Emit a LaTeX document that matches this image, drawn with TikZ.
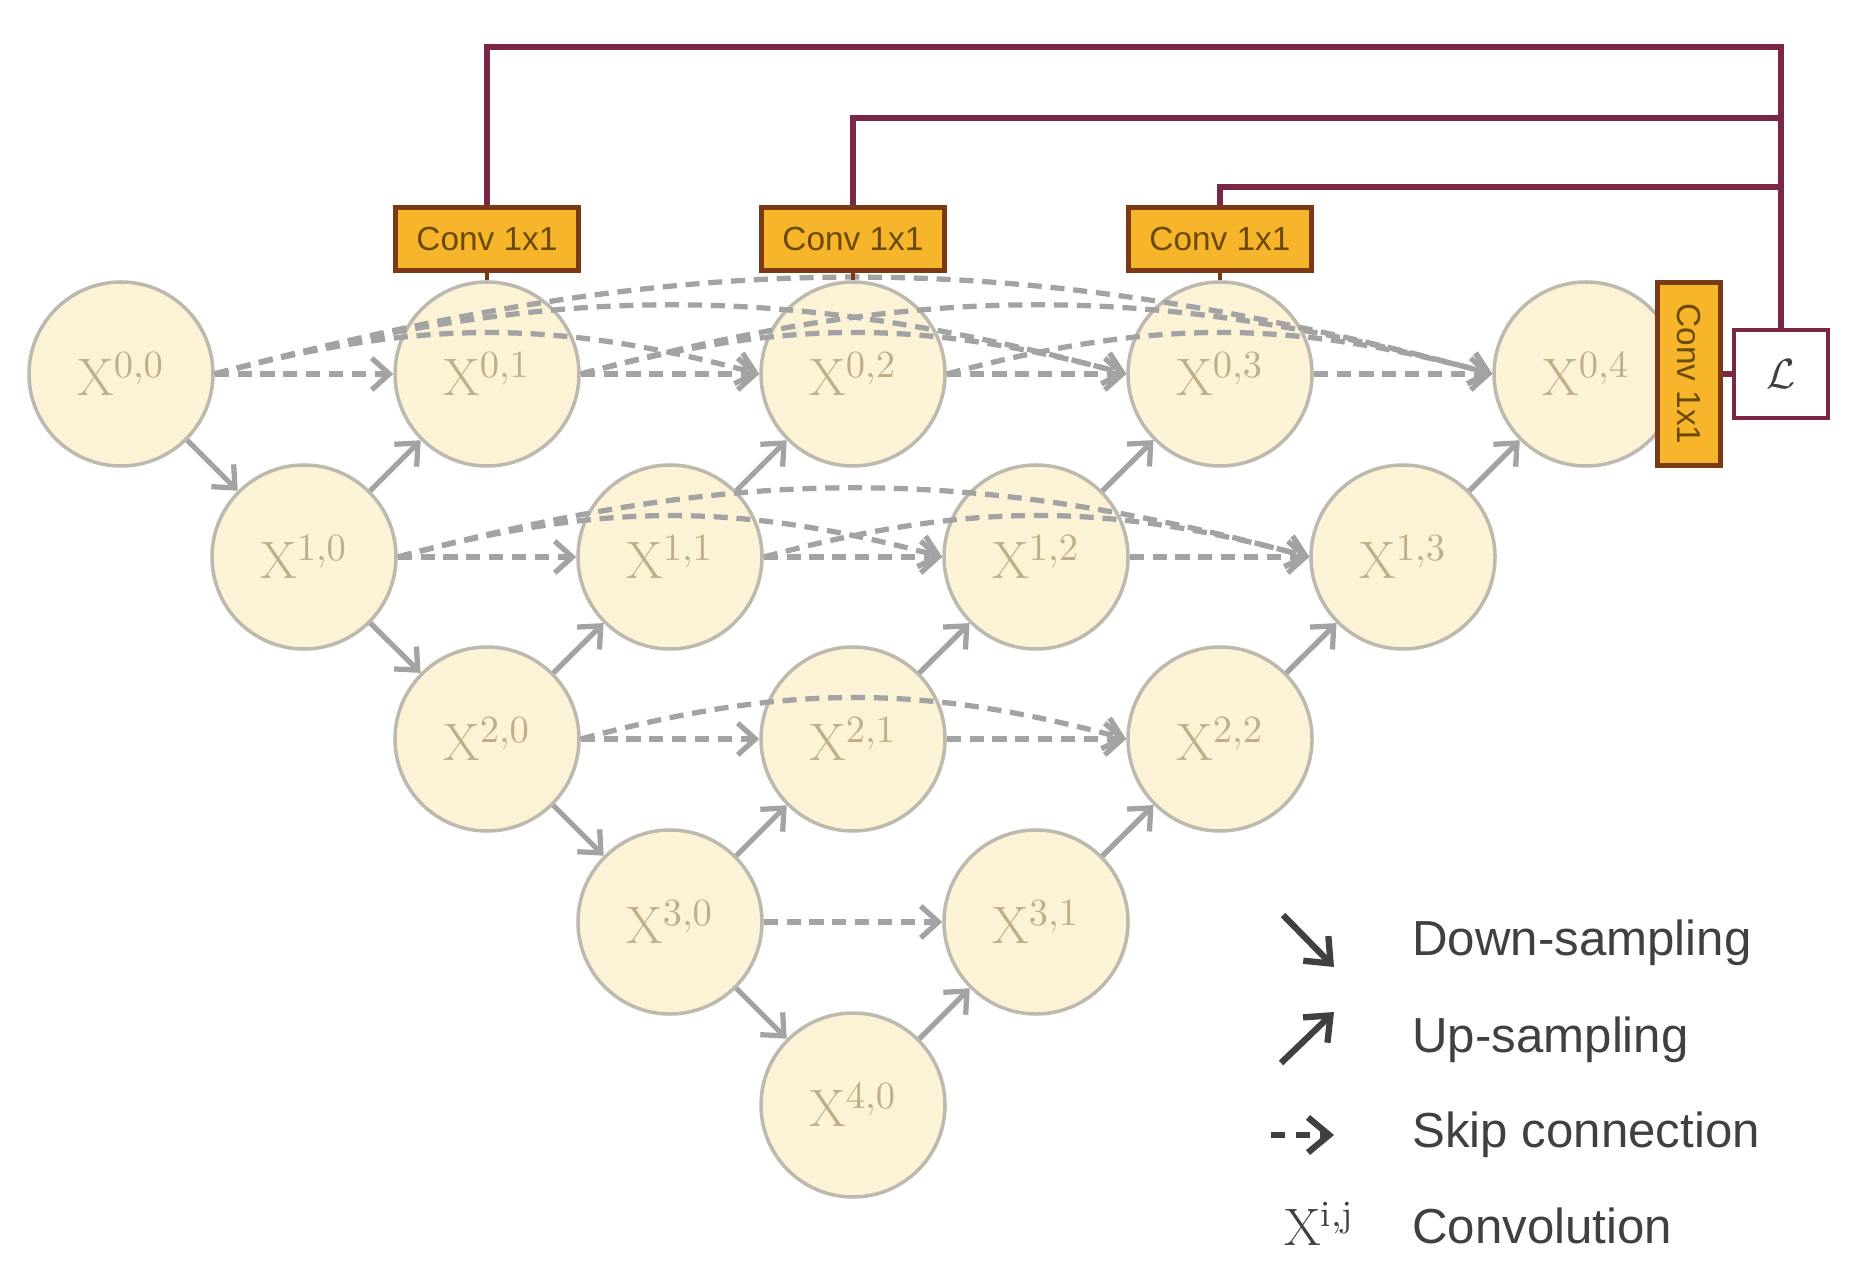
\documentclass[tikz,border=0pt]{standalone}
\usepackage{fontspec}
\setsansfont{Liberation Sans}
\usetikzlibrary{arrows.meta}
\definecolor{cream}{HTML}{FCF3D6}
\definecolor{ringgray}{HTML}{BDB9AE}
\definecolor{labeltan}{HTML}{BFAE88}
\definecolor{linkgray}{HTML}{A3A3A3}
\definecolor{convgold}{HTML}{F6B52A}
\definecolor{convbrown}{HTML}{7A3A14}
\definecolor{convtext}{HTML}{6A4A00}
\definecolor{lossred}{HTML}{7A2646}
\definecolor{legdark}{HTML}{404040}
\begin{document}
\begin{tikzpicture}[
    blob/.style={circle,draw=ringgray,line width=1pt,fill=cream,minimum size=1.84cm,inner sep=0pt,text=labeltan,font=\fontsize{15}{17}\selectfont},
    convbox/.style={draw=convbrown,line width=1.4pt,fill=convgold,minimum width=1.83cm,minimum height=0.63cm,inner sep=0pt,text=convtext,font=\sffamily\fontsize{9.5}{11}\selectfont},
    lossbox/.style={draw=lossred,line width=1.4pt,fill=white,minimum width=0.94cm,minimum height=0.88cm,text=legdark,font=\fontsize{13}{15}\selectfont},
    wire/.style={lossred,line width=1.5pt},
    stub/.style={convbrown,line width=1.4pt},
    samp/.style={linkgray,line width=1.5pt,-{Straight Barb[length=5pt,width=9pt]}},
    skip/.style={samp,dash pattern=on 4pt off 2.5pt},
    arc/.style={skip,bend left=15},
    legarr/.style={legdark,line width=1.8pt,-{Straight Barb[length=6pt,width=10pt]}},
    legtext/.style={anchor=base west,text=legdark,font=\sffamily\fontsize{14}{16}\selectfont}
]
\useasboundingbox (0,0) rectangle (18.63,-12.80);
\node[blob] (x00) at (1.21,-3.74) {$\mathrm{X}^{0,0}$};
\node[blob] (x01) at (4.87,-3.74) {$\mathrm{X}^{0,1}$};
\node[blob] (x02) at (8.53,-3.74) {$\mathrm{X}^{0,2}$};
\node[blob] (x03) at (12.20,-3.74) {$\mathrm{X}^{0,3}$};
\node[blob] (x04) at (15.86,-3.74) {$\mathrm{X}^{0,4}$};
\node[blob] (x10) at (3.04,-5.57) {$\mathrm{X}^{1,0}$};
\node[blob] (x11) at (6.70,-5.57) {$\mathrm{X}^{1,1}$};
\node[blob] (x12) at (10.36,-5.57) {$\mathrm{X}^{1,2}$};
\node[blob] (x13) at (14.03,-5.57) {$\mathrm{X}^{1,3}$};
\node[blob] (x20) at (4.87,-7.39) {$\mathrm{X}^{2,0}$};
\node[blob] (x21) at (8.53,-7.39) {$\mathrm{X}^{2,1}$};
\node[blob] (x22) at (12.20,-7.39) {$\mathrm{X}^{2,2}$};
\node[blob] (x30) at (6.70,-9.22) {$\mathrm{X}^{3,0}$};
\node[blob] (x31) at (10.36,-9.22) {$\mathrm{X}^{3,1}$};
\node[blob] (x40) at (8.53,-11.05) {$\mathrm{X}^{4,0}$};
\draw[skip] (x00) -- (x01);
\draw[arc] (x00.east) to (x02.west);
\draw[arc] (x00.east) to (x03.west);
\draw[arc] (x00.east) to (x04.west);
\draw[skip] (x01) -- (x02);
\draw[arc] (x01.east) to (x03.west);
\draw[arc] (x01.east) to (x04.west);
\draw[skip] (x02) -- (x03);
\draw[arc] (x02.east) to (x04.west);
\draw[skip] (x03) -- (x04);
\draw[skip] (x10) -- (x11);
\draw[arc] (x10.east) to (x12.west);
\draw[arc] (x10.east) to (x13.west);
\draw[skip] (x11) -- (x12);
\draw[arc] (x11.east) to (x13.west);
\draw[skip] (x12) -- (x13);
\draw[skip] (x20) -- (x21);
\draw[arc] (x20.east) to (x22.west);
\draw[skip] (x21) -- (x22);
\draw[skip] (x30) -- (x31);
\draw[samp] (x00) -- (x10);
\draw[samp] (x10) -- (x20);
\draw[samp] (x20) -- (x30);
\draw[samp] (x30) -- (x40);
\draw[samp] (x10) -- (x01);
\draw[samp] (x20) -- (x11);
\draw[samp] (x30) -- (x21);
\draw[samp] (x40) -- (x31);
\draw[samp] (x11) -- (x02);
\draw[samp] (x21) -- (x12);
\draw[samp] (x31) -- (x22);
\draw[samp] (x12) -- (x03);
\draw[samp] (x22) -- (x13);
\draw[samp] (x13) -- (x04);
\node[convbox] (c1) at (4.87,-2.39) {Conv 1x1};
\node[convbox] (c2) at (8.53,-2.39) {Conv 1x1};
\node[convbox] (c3) at (12.20,-2.39) {Conv 1x1};
\node[convbox,rotate=-90] (c4) at (16.89,-3.74) {Conv 1x1};
\node[lossbox] (loss) at (17.81,-3.74) {$\mathcal{L}$};
\coordinate (t1) at (17.81,-0.47);
\coordinate (t2) at (17.81,-1.18);
\coordinate (t3) at (17.81,-1.87);
\draw[wire] (c1.north) |- (t1) -- (loss.north);
\draw[wire] (c2.north) |- (t2);
\draw[wire] (c3.north) |- (t3);
\draw[wire] (c4.north) -- (loss.west);
\draw[stub] (c1.south) -- (x01.north);
\draw[stub] (c2.south) -- (x02.north);
\draw[stub] (c3.south) -- (x03.north);
\coordinate (dn1) at (12.83,-9.15);
\coordinate (dn2) at (13.34,-9.67);
\coordinate (up1) at (12.81,-10.63);
\coordinate (up2) at (13.34,-10.12);
\coordinate (sk1) at (12.71,-11.35);
\coordinate (sk2) at (13.34,-11.35);
\draw[legarr] (dn1) -- (dn2);
\draw[legarr] (up1) -- (up2);
\draw[legarr,dash pattern=on 4pt off 3pt] (sk1) -- (sk2);
\node[legtext] (tdown) at (14.00,-9.55) {Down-sampling};
\node[legtext] (tup) at (14.00,-10.52) {Up-sampling};
\node[legtext] (tskip) at (14.00,-11.47) {Skip connection};
\node[legtext] (tconv) at (14.00,-12.43) {Convolution};
\node[anchor=base west,text=legdark,font=\fontsize{15}{17}\selectfont] (tx) at (12.72,-12.45) {$\mathrm{X}^{\mathrm{i,j}}$};
\end{tikzpicture}
\end{document}
